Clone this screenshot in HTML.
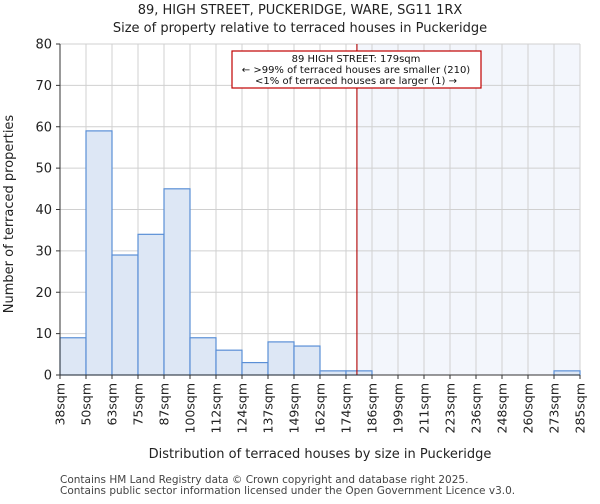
<!DOCTYPE html>
<html><head><meta charset="utf-8"><style>
body{margin:0;background:#fff;font-family:"DejaVu Sans","Liberation Sans",sans-serif}
</style></head><body>
<svg id="c" width="600" height="500" xmlns="http://www.w3.org/2000/svg" font-family="DejaVu Sans, Liberation Sans, sans-serif"></svg>
<script>
const categories=["38sqm","50sqm","63sqm","75sqm","87sqm","100sqm","112sqm","124sqm","137sqm","149sqm","162sqm","174sqm","186sqm","199sqm","211sqm","223sqm","236sqm","248sqm","260sqm","273sqm","285sqm"];
const counts=[9,59,29,34,45,9,6,3,8,7,1,1,0,0,0,0,0,0,0,1];
const yTicks=[0,10,20,30,40,50,60,70,80];
const markerBin=11.42;
const NS="http://www.w3.org/2000/svg";
const svg=document.getElementById('c');
const L=60,R=580,T=44,B=375,yMax=80;
const bw=(R-L)/counts.length;
const x=i=>L+i*bw;
const y=v=>B-(v/yMax)*(B-T);
function mk(t,a,p){const e=document.createElementNS(NS,t);for(const k in a)e.setAttribute(k,a[k]);(p||svg).appendChild(e);return e;}
let sh=mk('rect',{x:x(markerBin),y:T,width:R-x(markerBin),height:B-T,fill:'#eef2fb',opacity:0.7});


for(const v of yTicks){let g=mk('line',{x1:L,x2:R,y1:y(v),y2:y(v),stroke:'#d0d0d0'});

}
for(let i=0;i<categories.length;i++){let g=mk('line',{x1:x(i),x2:x(i),y1:T,y2:B,stroke:'#d0d0d0'});

}
counts.forEach((v,i)=>{if(v<=0)return;let b=mk('rect',{x:x(i),y:y(v),width:bw,height:B-y(v),fill:'#dde7f5',stroke:'#5a8fd6','stroke-width':1.2});

});
let ml=mk('line',{x1:x(markerBin),x2:x(markerBin),y1:T,y2:B,stroke:'#b00000','stroke-width':1.1});


let ax=mk('line',{x1:L,x2:R,y1:B,y2:B,stroke:'#333'});
let ay=mk('line',{x1:L,x2:L,y1:T,y2:B,stroke:'#333'});
for(const v of yTicks){let t=mk('text',{x:L-8,y:y(v)+4.5,'text-anchor':'end','font-size':13,fill:'#222'});t.textContent=v;


mk('line',{x1:L-4,x2:L,y1:y(v),y2:y(v),stroke:'#333'});}
categories.forEach((c,i)=>{mk('line',{x1:x(i),x2:x(i),y1:B,y2:B+4,stroke:'#333'});
let t=mk('text',{transform:`translate(${x(i)+4.5},${B+8}) rotate(-90)`,'text-anchor':'end','font-size':12.5,fill:'#222'});t.textContent=c;

});
function txt(s,a,name){let t=mk('text',a);t.textContent=s;return t;}
txt('89, HIGH STREET, PUCKERIDGE, WARE, SG11 1RX',{x:300,y:14,'text-anchor':'middle','font-size':13,fill:'#222'},'chart-title');
txt('Size of property relative to terraced houses in Puckeridge',{x:300,y:32,'text-anchor':'middle','font-size':13,fill:'#222'},'chart-subtitle');
txt('Distribution of terraced houses by size in Puckeridge',{x:320,y:458,'text-anchor':'middle','font-size':13,fill:'#222'},'x-axis-title');
txt('Number of terraced properties',{transform:'translate(13,214) rotate(-90)','text-anchor':'middle','font-size':13,fill:'#222'},'y-axis-title');
txt('Contains HM Land Registry data © Crown copyright and database right 2025.',{x:60,y:483,'font-size':10.5,fill:'#444'},'footer-line-1');
txt('Contains public sector information licensed under the Open Government Licence v3.0.',{x:60,y:494,'font-size':10.5,fill:'#444'},'footer-line-2');
let bx=mk('rect',{x:232,y:51,width:249,height:37,fill:'#fff',stroke:'#c00000','stroke-width':1.2});

txt('89 HIGH STREET: 179sqm',{x:356,y:62,'text-anchor':'middle','font-size':10,fill:'#111'},'annotation-title');
txt('← >99% of terraced houses are smaller (210)',{x:356,y:73,'text-anchor':'middle','font-size':10,fill:'#111'},'annotation-smaller');
txt('<1% of terraced houses are larger (1) →',{x:356,y:84,'text-anchor':'middle','font-size':10,fill:'#111'},'annotation-larger');
</script>
</body></html>
